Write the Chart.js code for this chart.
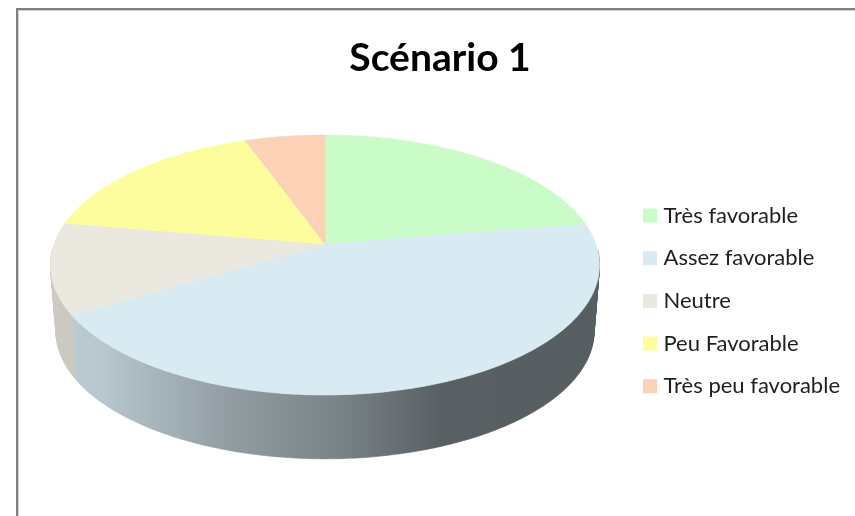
<!DOCTYPE html>
<html><head><meta charset="utf-8">
<style>html,body{margin:0;padding:0;background:#fff;overflow:hidden}#w{position:absolute;left:0;top:0;width:855px;height:516px}</style>
<script src="https://cdn.jsdelivr.net/npm/chart.js@4"></script>
</head><body><div id="w"><canvas id="c" width="855" height="516"></canvas></div>
<script>
const titleText = "Scénario 1";
const categories = ["Très favorable", "Assez favorable", "Neutre", "Peu Favorable", "Très peu favorable"];
const shares = [22.4, 44, 11.3, 16.8, 5.5];
const sliceColors = ["#c9fcc6", "#d9ebf2", "#eae8df", "#fdfd9e", "#fbd2b6"];

// Perspective view of the disc: top face and base face
const K = 0.1615, CX = 325;
const TOP = {A: 270.9, B: 126.6, Y: 244};
const BASE = {A: 265.5, B: 124, Y: 311};
// Lighting of the side wall, as [x, brightness]
const SHADE = [[52,.87],[100,.85],[150,.78],[230,.67],[330,.57],[400,.47],[440,.41],[600,.40]];

function project(f, a) {
  const u = Math.cos(a), v = Math.sin(a), w = 1 - K * v;
  return [CX + f.A * u / w, f.Y + f.B * v / w, v];
}
function shade(hex, f) {
  const n = parseInt(hex.slice(1), 16);
  return `rgb(${Math.round((n>>16&255)*f)},${Math.round((n>>8&255)*f)},${Math.round((n&255)*f)})`;
}
const disc3d = {
  id: "disc3d",
  beforeDraw(chart) {
    const g = chart.ctx;
    g.save();
    g.fillStyle = "#fff"; g.fillRect(0, 0, chart.width, chart.height);
    g.fillStyle = "#d4d4d4"; g.fillRect(18, 10, chart.width, 1); g.fillRect(18, 10, 1, chart.height);
    g.fillStyle = "#808080"; g.fillRect(16, 8, chart.width, 2); g.fillRect(16, 8, 2, chart.height);
    g.restore();
  },
  beforeDatasetsDraw(chart) {
    const g = chart.ctx;
    const arcs = chart.getDatasetMeta(0).data.map((el, i) => ({
      s: el.startAngle, e: el.endAngle, color: sliceColors[i]
    }));
    const path = (f, s, e) => {
      const n = Math.max(8, Math.ceil((e - s) * 80)), pts = [];
      for (let i = 0; i <= n; i++) pts.push(project(f, s + (e - s) * i / n));
      return pts;
    };
    g.save();
    const order = arcs.slice().sort((p, q) => Math.sin((p.s+p.e)/2) - Math.sin((q.s+q.e)/2));
    for (const a of order) {
      const grad = g.createLinearGradient(SHADE[0][0], 0, SHADE[SHADE.length-1][0], 0);
      const span = SHADE[SHADE.length-1][0] - SHADE[0][0];
      for (const [x, f] of SHADE) grad.addColorStop((x - SHADE[0][0]) / span, shade(a.color, f));
      g.fillStyle = grad; g.strokeStyle = grad; g.lineWidth = 0.5;
      const t = path(TOP, a.s, a.e), b = path(BASE, a.s, a.e);
      g.beginPath();
      for (let i = 0; i < t.length - 1; i++) {
        if (t[i][2] < 0.05 && t[i+1][2] < 0.05) continue;
        g.moveTo(t[i][0], t[i][1]); g.lineTo(t[i+1][0], t[i+1][1]);
        g.lineTo(b[i+1][0], b[i+1][1]); g.lineTo(b[i][0], b[i][1]); g.closePath();
      }
      g.fill("nonzero"); g.stroke();
    }
    for (const a of arcs) {
      g.fillStyle = a.color; g.strokeStyle = a.color; g.lineWidth = 0.6;
      g.beginPath();
      g.moveTo(CX, TOP.Y);
      path(TOP, a.s, a.e).forEach(p => g.lineTo(p[0], p[1]));
      g.closePath(); g.fill(); g.stroke();
    }
    g.restore();
    return false;
  }
};
new Chart(document.getElementById("c"), {
  type: "pie",
  data: { labels: categories, datasets: [{ data: shares, backgroundColor: sliceColors, borderWidth: 0 }] },
  options: {
    responsive: false, animation: false,
    layout: { padding: { left: 30, right: 5, top: 0, bottom: 0 } },
    plugins: {
      tooltip: { enabled: false },
      title: { display: true, text: titleText, color: "#000", font: { family: "Lato", size: 39, weight: "bold" }, padding: { top: 35, bottom: 4 } },
      legend: {
        position: "right", fullSize: false,
        labels: {
          boxWidth: 5, boxHeight: 5, padding: 20.7, color: "#1f1f1f",
          font: { family: "Lato", size: 22 },
          generateLabels: chart => categories.map((text, i) => ({
            text, index: i, fillStyle: sliceColors[i], strokeStyle: sliceColors[i], lineWidth: 9, hidden: false, fontColor: "#1f1f1f"
          }))
        }
      }
    }
  },
  plugins: [disc3d]
});
</script></body></html>
